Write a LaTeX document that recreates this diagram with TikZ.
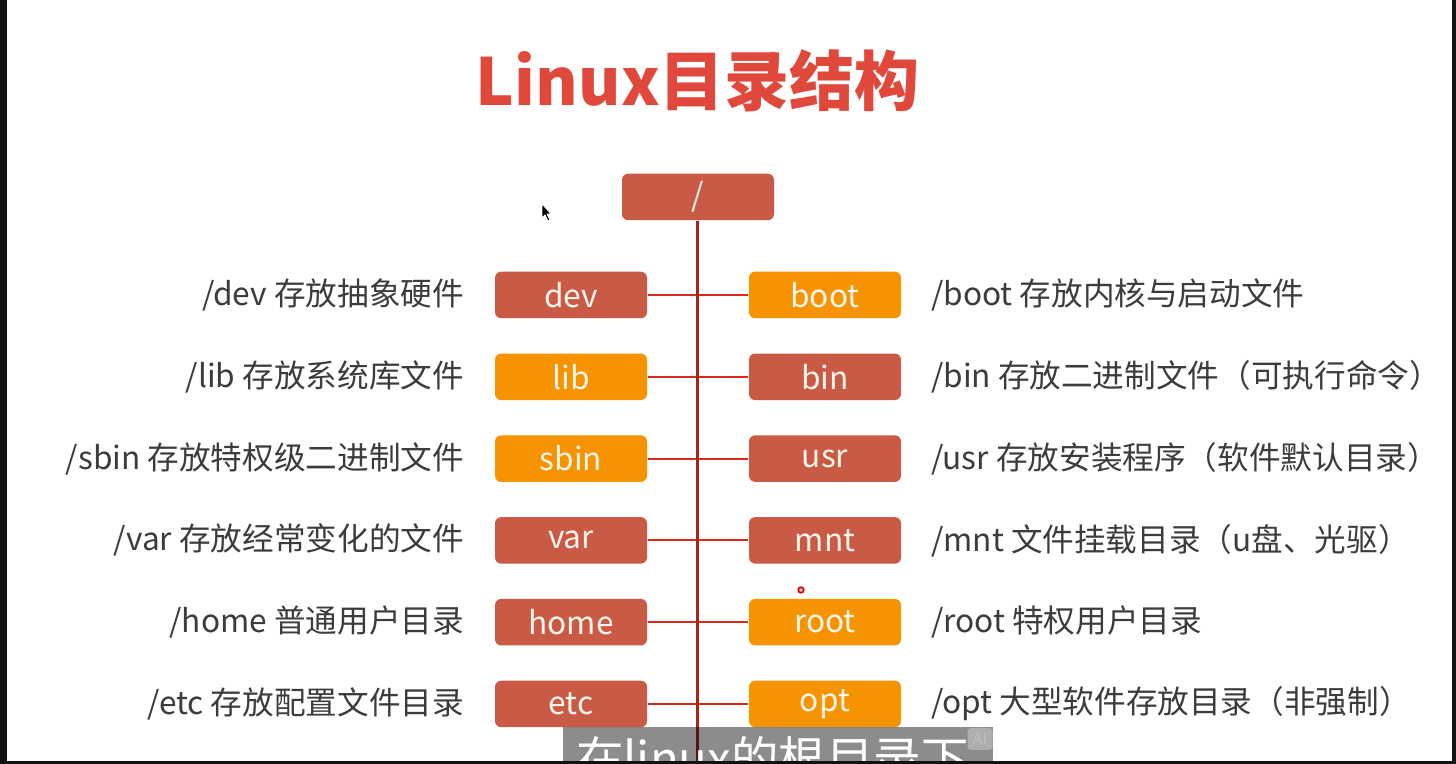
\documentclass[tikz,border=0pt]{standalone}
\usepackage{fontspec}
\setmainfont{Noto Sans CJK SC}
\usetikzlibrary{positioning}

\definecolor{dirred}{HTML}{C95A45}
\definecolor{dirorange}{HTML}{F59300}
\definecolor{titlered}{HTML}{E0483C}
\definecolor{trunkred}{HTML}{A82318}
\definecolor{branchred}{HTML}{DA2A1E}
\definecolor{labelgray}{HTML}{3C3C3C}
\definecolor{frameblack}{HTML}{121212}

\begin{document}
\begin{tikzpicture}[line width=1.2pt,
  dirbox/.style={rounded corners=3.5pt, minimum width=3.04cm, minimum height=0.93cm,
    inner sep=0pt, text=white!92!orange, font=\fontsize{18}{18}\selectfont},
  redbox/.style={dirbox, fill=dirred},
  orangebox/.style={dirbox, fill=dirorange},
  desc/.style={text=labelgray, font=\fontsize{18}{18}\selectfont, inner sep=0pt}]
  \useasboundingbox (0,0) rectangle (29.12,15.28);
  \fill[white] (0,0) rectangle (29.12,15.28);

  % title
  \node (title) at (13.96,13.66) {\fontsize{37}{37}\selectfont\bfseries\color{titlered}Linux目录结构};

  % root
  \node[redbox] (root) at (13.96,11.34) {/};
  \coordinate (trunkend) at (13.95,0);

  % left column
  \node[redbox]    (dev)  at (11.42,9.38)  {dev};
  \node[orangebox] (lib)  at (11.42,7.744) {lib};
  \node[orangebox] (sbin) at (11.42,6.108) {sbin};
  \node[redbox]    (var)  at (11.42,4.472) {var};
  \node[redbox]    (home) at (11.42,2.836) {home};
  \node[redbox]    (etc)  at (11.42,1.20)  {etc};

  % right column
  \node[orangebox] (boot) at (16.50,9.38)  {boot};
  \node[redbox]    (bin)  at (16.50,7.744) {bin};
  \node[redbox]    (usr)  at (16.50,6.108) {usr};
  \node[redbox]    (mnt)  at (16.50,4.472) {mnt};
  \node[orangebox] (rootdir) at (16.50,2.836) {root};
  \node[orangebox] (opt)  at (16.50,1.20)  {opt};

  % descriptions
  \node[desc, anchor=east] (devtxt)  at (9.30,9.38)  {/dev 存放抽象硬件};
  \node[desc, anchor=east] (libtxt)  at (9.30,7.744) {/lib 存放系统库文件};
  \node[desc, anchor=east] (sbintxt) at (9.30,6.108) {/sbin 存放特权级二进制文件};
  \node[desc, anchor=east] (vartxt)  at (9.30,4.472) {/var 存放经常变化的文件};
  \node[desc, anchor=east] (hometxt) at (9.30,2.836) {/home 普通用户目录};
  \node[desc, anchor=east] (etctxt)  at (9.30,1.20)  {/etc 存放配置文件目录};
  \node[desc, anchor=west] (boottxt) at (18.60,9.38)  {/boot 存放内核与启动文件};
  \node[desc, anchor=west] (bintxt)  at (18.60,7.744) {/bin 存放二进制文件（可执行命令）};
  \node[desc, anchor=west] (usrtxt)  at (18.60,6.108) {/usr 存放安装程序（软件默认目录）};
  \node[desc, anchor=west] (mnttxt)  at (18.60,4.472) {/mnt 文件挂载目录（u盘、光驱）};
  \node[desc, anchor=west] (roottxt) at (18.60,2.836) {/root 特权用户目录};
  \node[desc, anchor=west] (opttxt)  at (18.60,1.20)  {/opt 大型软件存放目录（非强制）};

  % branches
  \draw[branchred] (dev) -- (boot);
  \draw[branchred] (lib) -- (bin);
  \draw[branchred] (sbin) -- (usr);
  \draw[branchred] (var) -- (mnt);
  \draw[branchred] (home) -- (rootdir);
  \draw[branchred] (etc) -- (opt);
  \draw[trunkred, line width=1.7pt] (root.south -| trunkend) -- (trunkend);

  % pointer and click mark
  \draw[fill=black, draw=white, line width=0.4pt] (10.84,11.20) -- (10.84,10.92) -- (10.90,10.98)
    -- (10.96,10.86) -- (11.00,10.88) -- (10.94,11.00) -- (11.02,11.00) -- cycle;
  \draw[red!85!black, fill=white!85!red, line width=1pt] (16.02,3.48) circle (0.055);

  % subtitle bar
  \begin{scope}
    \clip (11.26,0) rectangle (19.86,0.74);
    \fill[black, opacity=0.45] (11.26,0) rectangle (19.86,0.74);
    \node[anchor=base west, inner sep=0pt, text=white, font=\fontsize{27}{27}\selectfont]
      (caption) at (11.50,-0.26) {在linux的根目录下};
  \end{scope}
  \node[fill=white, fill opacity=0.3, text opacity=0.55, text=white!80!black, rounded corners=2pt,
    minimum width=0.5cm, minimum height=0.44cm, inner sep=0pt, font=\fontsize{9}{9}\selectfont]
    (aibadge) at (19.60,0.50) {AI};

  % video frame edges
  \fill[frameblack] (0,0) rectangle (0.13,15.28);
  \fill[frameblack] (29.04,0) rectangle (29.12,15.28);
  \fill[frameblack] (0,0) rectangle (29.12,0.06);
\end{tikzpicture}
\end{document}
